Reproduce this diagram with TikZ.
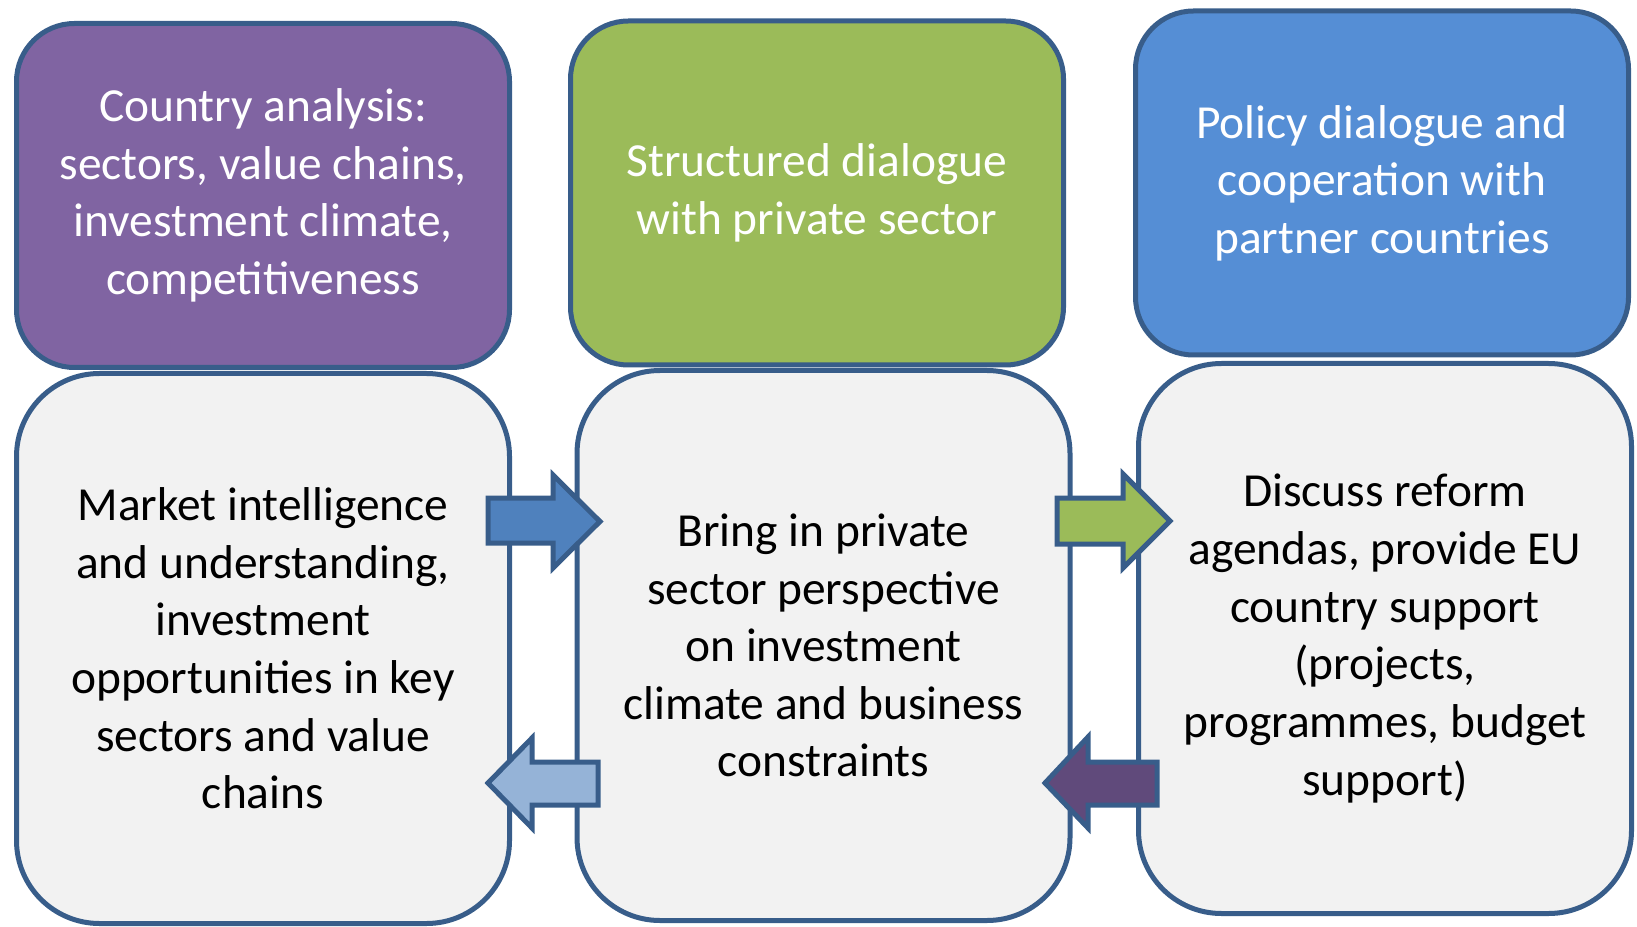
\documentclass[tikz,border=0pt]{standalone}
\usepackage{fontspec}
\setmainfont{Carlito}
\usepackage{tikz}
\definecolor{edgeblue}{HTML}{385D8A}
\definecolor{boxpurple}{HTML}{8064A2}
\definecolor{boxgreen}{HTML}{9BBB59}
\definecolor{boxblue}{HTML}{558ED5}
\definecolor{boxgray}{HTML}{F2F2F2}
\definecolor{arrowblue}{HTML}{4F81BD}
\definecolor{arrowlight}{HTML}{95B3D7}
\definecolor{arrowpurple}{HTML}{604A7B}
\tikzset{
  card/.style={draw=edgeblue, line width=0.05cm, inner sep=0pt, outer sep=0pt,
    align=center, font=\fontsize{13.5}{16.4}\selectfont},
  head card/.style={card, rounded corners=0.58cm, minimum width=4.93cm,
    minimum height=3.44cm, text=white},
  body card/.style={card, rounded corners=0.83cm, minimum width=4.93cm,
    minimum height=5.50cm, fill=boxgray, text=black},
  block arrow/.style={draw=edgeblue, line width=0.05cm, line join=miter},
}

\begin{document}
\begin{tikzpicture}
\useasboundingbox (0,0) rectangle (16.37,-9.27);
\def\bodyL{0.65}
\def\headL{0.47}

%%% headers
\node[head card, fill=boxpurple] (analysis) at (2.63,-1.955)
  {Country analysis:\\ sectors, value chains,\\ investment climate,\\ competitiveness};
\node[head card, fill=boxgreen] (dialogue) at (8.17,-1.93)
  {Structured dialogue\\ with private sector};
\node[head card, fill=boxblue] (policy) at (13.82,-1.83)
  {Policy dialogue and\\ cooperation with\\ partner countries};

%%% bodies
\node[body card] (market) at (2.63,-6.485)
  {Market intelligence\\ and understanding,\\ investment\\ opportunities in key\\ sectors and value\\ chains};
\node[body card] (bring) at (8.235,-6.455)
  {Bring in private\\ sector perspective\\ on investment\\ climate and business\\ constraints};
\node[body card] (reform) at (13.85,-6.385)
  {Discuss reform\\ agendas, provide EU\\ country support\\ (projects,\\ programmes, budget\\ support)};

%%% arrows to the right
\draw[block arrow, fill=arrowblue] (4.88,-4.98) -- ++(\bodyL,0) -- ++(0,0.23)
  -- ++(\headL,-0.465) -- ++(-\headL,-0.465) -- ++(0,0.25) -- ++(-\bodyL,0) -- cycle;
\draw[block arrow, fill=boxgreen] (10.57,-4.98) -- ++(0.66,0) -- ++(0,0.24)
  -- ++(\headL,-0.47) -- ++(-\headL,-0.47) -- ++(0,0.24) -- ++(-0.66,0) -- cycle;

%%% arrows to the left
\draw[block arrow, fill=arrowlight] (4.88,-7.83) -- ++(0.44,0.45) -- ++(0,-0.24)
  -- ++(\bodyL+0.01,0) -- ++(0,-0.43) -- ++(-\bodyL-0.01,0) -- ++(0,-0.23) -- cycle;
\draw[block arrow, fill=arrowpurple] (10.45,-7.83) -- ++(0.43,0.46) -- ++(0,-0.25)
  -- ++(0.69,0) -- ++(0,-0.43) -- ++(-0.69,0) -- ++(0,-0.23) -- cycle;

\end{tikzpicture}
\end{document}
